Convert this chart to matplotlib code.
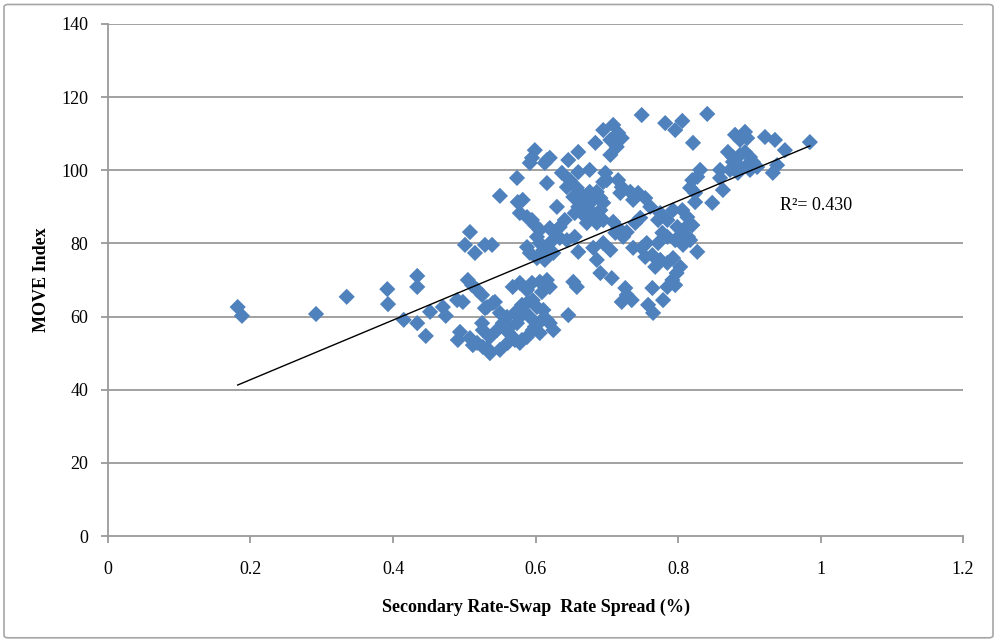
import numpy as np
import matplotlib
matplotlib.use('Agg')
import matplotlib.pyplot as plt
from matplotlib.patches import FancyBboxPatch

plt.rcParams['font.family'] = ['Liberation Serif', 'DejaVu Serif']

# secondary rate - swap rate spread (%) and MOVE index
spread = [
    0.182, 0.188, 0.292, 0.335, 0.392, 0.393, 0.415, 0.434, 0.434, 0.434,
    0.446, 0.452, 0.470, 0.474, 0.490, 0.498, 0.505, 0.511, 0.518, 0.525,
    0.494, 0.491, 0.508, 0.501, 0.515, 0.529, 0.539, 0.550, 0.508, 0.518,
    0.526, 0.536, 0.550, 0.532, 0.540, 0.550, 0.560, 0.554, 0.564, 0.574,
    0.578, 0.568, 0.578, 0.588, 0.595, 0.606, 0.616, 0.620, 0.609, 0.596,
    0.588, 0.582, 0.592, 0.602, 0.611, 0.620, 0.596, 0.588, 0.578, 0.568,
    0.606, 0.616, 0.546, 0.536, 0.526, 0.529, 0.543, 0.571, 0.581, 0.625,
    0.561, 0.525, 0.512, 0.532, 0.561, 0.571, 0.599, 0.606, 0.581, 0.646,
    0.599, 0.595, 0.592, 0.616, 0.620, 0.613, 0.574, 0.616, 0.646, 0.660,
    0.684, 0.695, 0.709, 0.716, 0.705, 0.721, 0.714, 0.705, 0.749, 0.782,
    0.796, 0.806, 0.821, 0.841, 0.637, 0.648, 0.660, 0.676, 0.698, 0.700,
    0.695, 0.716, 0.721, 0.719, 0.733, 0.744, 0.754, 0.761, 0.737, 0.644,
    0.658, 0.653, 0.665, 0.676, 0.686, 0.681, 0.691, 0.695, 0.669, 0.660,
    0.655, 0.667, 0.676, 0.691, 0.684, 0.695, 0.672, 0.641, 0.634, 0.630,
    0.575, 0.582, 0.578, 0.588, 0.595, 0.599, 0.606, 0.620, 0.625, 0.716,
    0.728, 0.712, 0.740, 0.747, 0.709, 0.723, 0.686, 0.588, 0.602, 0.606,
    0.620, 0.634, 0.644, 0.655, 0.592, 0.602, 0.611, 0.625, 0.613, 0.660,
    0.681, 0.695, 0.705, 0.686, 0.691, 0.707, 0.653, 0.658, 0.726, 0.728,
    0.721, 0.735, 0.737, 0.756, 0.754, 0.764, 0.775, 0.768, 0.785, 0.793,
    0.803, 0.798, 0.792, 0.785, 0.796, 0.772, 0.785, 0.796, 0.807, 0.817,
    0.827, 0.764, 0.779, 0.758, 0.765, 0.775, 0.785, 0.793, 0.806, 0.813,
    0.799, 0.810, 0.820, 0.778, 0.807, 0.814, 0.820, 0.827, 0.817, 0.824,
    0.831, 0.824, 0.848, 0.859, 0.859, 0.863, 0.772, 0.749, 0.880, 0.894,
    0.887, 0.897, 0.870, 0.877, 0.887, 0.894, 0.901, 0.905, 0.897, 0.887,
    0.877, 0.873, 0.884, 0.901, 0.911, 0.922, 0.936, 0.950, 0.939, 0.933,
    0.985,
]
move = [
    62.6, 60.2, 60.7, 65.4, 67.5, 63.4, 59.1, 71.1, 68.1, 58.2,
    54.7, 61.3, 62.6, 60.2, 64.5, 64.0, 70.0, 68.6, 67.3, 65.9,
    55.8, 53.6, 83.1, 79.6, 77.4, 79.6, 79.6, 93.0, 54.1, 52.8,
    51.7, 50.0, 50.9, 62.6, 63.7, 61.0, 59.9, 58.2, 57.2, 58.2,
    59.9, 68.1, 69.2, 67.3, 69.2, 69.5, 70.0, 68.1, 66.7, 64.5,
    63.7, 61.8, 59.9, 62.6, 61.8, 58.2, 56.3, 54.4, 52.8, 54.4,
    55.5, 59.1, 56.3, 54.4, 56.3, 62.3, 64.0, 61.0, 63.2, 56.3,
    55.8, 58.2, 52.2, 51.4, 52.8, 53.6, 57.2, 58.5, 53.6, 60.4,
    105.5, 103.4, 102.0, 102.8, 103.4, 102.0, 97.9, 96.5, 102.8, 105.0,
    107.5, 111.0, 112.4, 110.2, 108.3, 108.8, 106.4, 104.2, 115.1, 112.9,
    111.0, 113.5, 107.5, 115.4, 99.3, 97.3, 99.5, 100.1, 99.3, 97.3,
    96.8, 97.3, 95.4, 93.8, 94.1, 93.8, 92.4, 90.0, 91.9, 95.4,
    95.2, 92.7, 93.2, 94.1, 94.1, 91.9, 92.4, 91.1, 91.1, 90.0,
    88.3, 87.8, 89.1, 89.1, 87.2, 86.4, 85.6, 86.4, 84.5, 90.0,
    91.3, 91.9, 88.3, 87.2, 86.4, 85.0, 83.7, 84.2, 83.1, 84.2,
    83.1, 82.9, 85.6, 87.0, 85.9, 81.8, 85.6, 79.0, 81.8, 80.1,
    80.1, 81.5, 80.9, 81.8, 77.4, 76.0, 78.2, 77.4, 75.5, 77.7,
    78.8, 80.1, 78.2, 75.5, 71.9, 70.5, 69.5, 68.1, 67.8, 65.9,
    64.0, 64.5, 78.8, 80.1, 76.3, 76.8, 75.5, 73.6, 74.7, 76.0,
    73.6, 71.9, 70.0, 68.1, 68.6, 80.1, 81.8, 80.9, 79.6, 80.9,
    77.7, 67.8, 64.5, 63.2, 61.0, 88.3, 86.4, 89.1, 89.1, 87.2,
    84.5, 84.2, 85.0, 82.9, 82.9, 81.8, 97.3, 98.2, 95.2, 93.8,
    100.1, 91.3, 91.1, 100.1, 97.9, 94.6, 86.4, 78.8, 109.7, 110.5,
    108.3, 108.8, 105.0, 103.6, 104.2, 105.0, 103.6, 102.3, 101.4, 100.9,
    102.3, 100.1, 99.3, 100.1, 100.9, 109.1, 108.3, 105.5, 101.4, 99.3,
    107.7,
]
r2_label = 'R\u00b2= 0.430'

x = np.array(spread)
y = np.array(move)

fig = plt.figure(figsize=(9.98, 6.41), dpi=100)
ax = fig.add_axes([0.1082, 0.1638, 0.965 - 0.1082, 0.9626 - 0.1638])

# outer chart border
fig.patches.append(FancyBboxPatch((0.004, 0.005), 0.991, 0.988, boxstyle='round,pad=0,rounding_size=0.004',
                                  transform=fig.transFigure, fill=False, ec='#a6a6a6', lw=1.2))

for v in range(20, 141, 20):
    ax.axhline(v, color='#9a9a9a', lw=1.3, zorder=1)

ax.scatter(x, y, marker='D', s=68, color='#4f81bd', edgecolors='none', zorder=3)

# linear trend line
k, b = np.polyfit(x, y, 1)
xs = np.array([x.min(), x.max()])
ax.plot(xs, k * xs + b, color='black', lw=1.0, zorder=4)
ax.text(0.943, 90.5, r2_label, fontsize=13, va='center', ha='left')

ax.set_xlim(0, 1.2)
ax.set_ylim(0, 140)
ax.set_xticks(np.arange(0, 1.21, 0.2))
ax.set_xticklabels(['0', '0.2', '0.4', '0.6', '0.8', '1', '1.2'])
ax.set_yticks(range(0, 141, 20))
for s in ['top', 'right']:
    ax.spines[s].set_visible(False)
for s in ['left', 'bottom']:
    ax.spines[s].set_color('#9a9a9a')
    ax.spines[s].set_linewidth(1.3)
ax.tick_params(direction='out', length=5, width=1.3, color='#9a9a9a',
               labelsize=13, labelcolor='black')
ax.tick_params(axis='y', pad=9)
ax.tick_params(axis='x', pad=13)

ax.set_xlabel('Secondary Rate-Swap  Rate Spread (%)', fontsize=13, fontweight='bold', labelpad=15)
ax.set_ylabel('MOVE Index', fontsize=13, fontweight='bold', labelpad=8)

fig.savefig('out.png', dpi=100)
